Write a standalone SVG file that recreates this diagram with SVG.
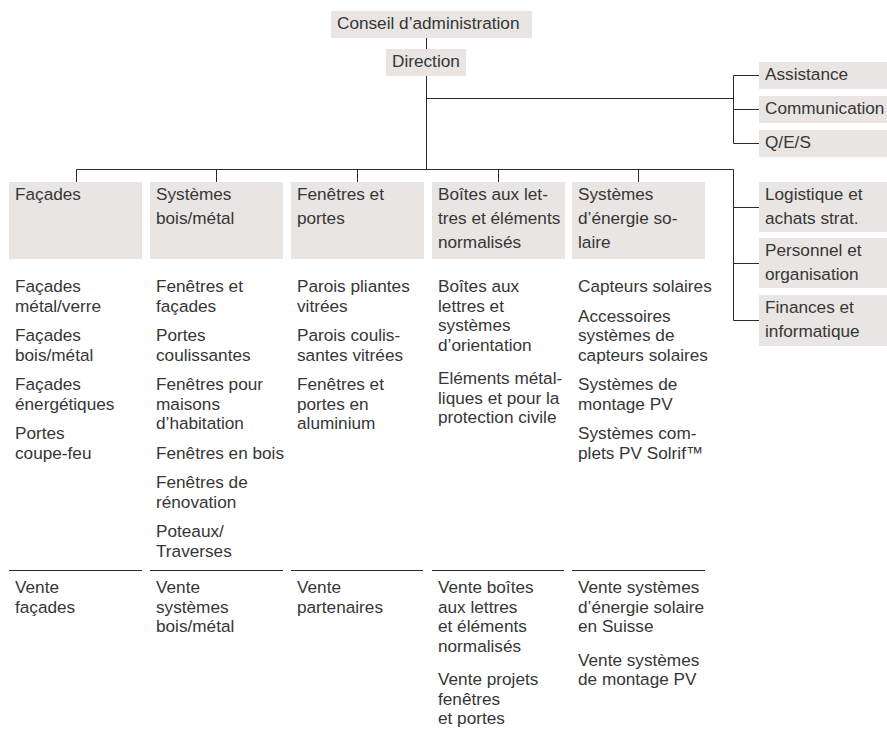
<svg xmlns="http://www.w3.org/2000/svg" width="887" height="729" viewBox="0 0 887 729">
<style>
  text { font-family: "Liberation Sans", Arial, sans-serif; font-size: 17.2px; fill: #363636; }
  .box { fill: #e8e5e2; }
  .ln { stroke: #2a2a2a; stroke-width: 1; fill: none; }
</style>
<rect width="887" height="729" fill="#fff"/>
<g id="connectors" class="ln">
  <path d="M426.5 38V49"/>
  <path d="M426.5 76V169.5"/>
  <path d="M426.5 98.5H733.5"/>
  <path d="M759 75.5H733.5V143.5H759M733.5 109.5H759"/>
  <path d="M76.5 182V169.5H733.5V320.5H759M733.5 207.5H759M733.5 263.5H759"/>
  <path d="M216.5 169.5V182M357.5 169.5V182M498.5 169.5V182M638.5 169.5V182"/>
</g>
<g id="conseil"><rect class="box" x="331" y="11" width="201" height="27"/><text x="337" y="29">Conseil d’administration</text></g>
<g id="direction"><rect class="box" x="386" y="49" width="80" height="27"/><text x="392" y="67">Direction</text></g>
<g id="assistance"><rect class="box" x="759" y="62" width="128" height="27"/><text x="765" y="80">Assistance</text></g>
<g id="communication"><rect class="box" x="759" y="96" width="128" height="27"/><text x="765" y="114">Communication</text></g>
<g id="qes"><rect class="box" x="759" y="130" width="128" height="27"/><text x="765" y="148">Q/E/S</text></g>
<g id="logistique"><rect class="box" x="759" y="182" width="128" height="50"/><text x="765" y="199.5">Logistique et</text><text x="765" y="223.5">achats strat.</text></g>
<g id="personnel"><rect class="box" x="759" y="238" width="128" height="50"/><text x="765" y="255.5">Personnel et</text><text x="765" y="279.5">organisation</text></g>
<g id="finances"><rect class="box" x="759" y="295" width="128" height="51"/><text x="765" y="312.5">Finances et</text><text x="765" y="336.5">informatique</text></g>

<g id="col-facades">
  <rect class="box" x="9" y="182" width="133" height="77"/>
  <text x="15" y="199.5">Façades</text>
  <text x="15" y="292">Façades</text><text x="15" y="311.5">métal/verre</text>
  <text x="15" y="341">Façades</text><text x="15" y="360.5">bois/métal</text>
  <text x="15" y="390">Façades</text><text x="15" y="409.5">énergétiques</text>
  <text x="15" y="439">Portes</text><text x="15" y="458.5">coupe-feu</text>
  <path class="ln" d="M9 570.5H142"/>
  <text x="15" y="593">Vente</text><text x="15" y="612.5">façades</text>
</g>
<g id="col-bois-metal">
  <rect class="box" x="150" y="182" width="133" height="77"/>
  <text x="156" y="199.5">Systèmes</text><text x="156" y="223.5">bois/métal</text>
  <text x="156" y="292">Fenêtres et</text><text x="156" y="311.5">façades</text>
  <text x="156" y="341">Portes</text><text x="156" y="360.5">coulissantes</text>
  <text x="156" y="390">Fenêtres pour</text><text x="156" y="409.5">maisons</text><text x="156" y="429">d’habitation</text>
  <text x="156" y="458.5">Fenêtres en bois</text>
  <text x="156" y="488">Fenêtres de</text><text x="156" y="507.5">rénovation</text>
  <text x="156" y="537">Poteaux/</text><text x="156" y="556.5">Traverses</text>
  <path class="ln" d="M150 570.5H283"/>
  <text x="156" y="593">Vente</text><text x="156" y="612.5">systèmes</text><text x="156" y="632">bois/métal</text>
</g>
<g id="col-fenetres">
  <rect class="box" x="291" y="182" width="133" height="77"/>
  <text x="297" y="199.5">Fenêtres et</text><text x="297" y="223.5">portes</text>
  <text x="297" y="292">Parois pliantes</text><text x="297" y="311.5">vitrées</text>
  <text x="297" y="341">Parois coulis-</text><text x="297" y="360.5">santes vitrées</text>
  <text x="297" y="390">Fenêtres et</text><text x="297" y="409.5">portes en</text><text x="297" y="429">aluminium</text>
  <path class="ln" d="M291 570.5H423"/>
  <text x="297" y="593">Vente</text><text x="297" y="612.5">partenaires</text>
</g>
<g id="col-boites">
  <rect class="box" x="432" y="182" width="133" height="77"/>
  <text x="438" y="199.5">Boîtes aux let-</text><text x="438" y="223.5">tres et éléments</text><text x="438" y="247.5">normalisés</text>
  <text x="438" y="292">Boîtes aux</text><text x="438" y="311.5">lettres et</text><text x="438" y="331">systèmes</text><text x="438" y="350.5">d’orientation</text>
  <text x="438" y="384">Eléments métal-</text><text x="438" y="403.5">liques et pour la</text><text x="438" y="423">protection civile</text>
  <path class="ln" d="M432 570.5H564"/>
  <text x="438" y="593">Vente boîtes</text><text x="438" y="612.5">aux lettres</text><text x="438" y="632">et éléments</text><text x="438" y="651.5">normalisés</text>
  <text x="438" y="685">Vente projets</text><text x="438" y="704.5">fenêtres</text><text x="438" y="724">et portes</text>
</g>
<g id="col-solaire">
  <rect class="box" x="572" y="182" width="133" height="77"/>
  <text x="578" y="199.5">Systèmes</text><text x="578" y="223.5">d’énergie so-</text><text x="578" y="247.5">laire</text>
  <text x="578" y="292">Capteurs solaires</text>
  <text x="578" y="321.5">Accessoires</text><text x="578" y="341">systèmes de</text><text x="578" y="360.5">capteurs solaires</text>
  <text x="578" y="390">Systèmes de</text><text x="578" y="409.5">montage PV</text>
  <text x="578" y="439">Systèmes com-</text><text x="578" y="458.5">plets PV Solrif™</text>
  <path class="ln" d="M572 570.5H705"/>
  <text x="578" y="593">Vente systèmes</text><text x="578" y="612.5">d’énergie solaire</text><text x="578" y="632">en Suisse</text>
  <text x="578" y="665.5">Vente systèmes</text><text x="578" y="685">de montage PV</text>
</g>
</svg>
